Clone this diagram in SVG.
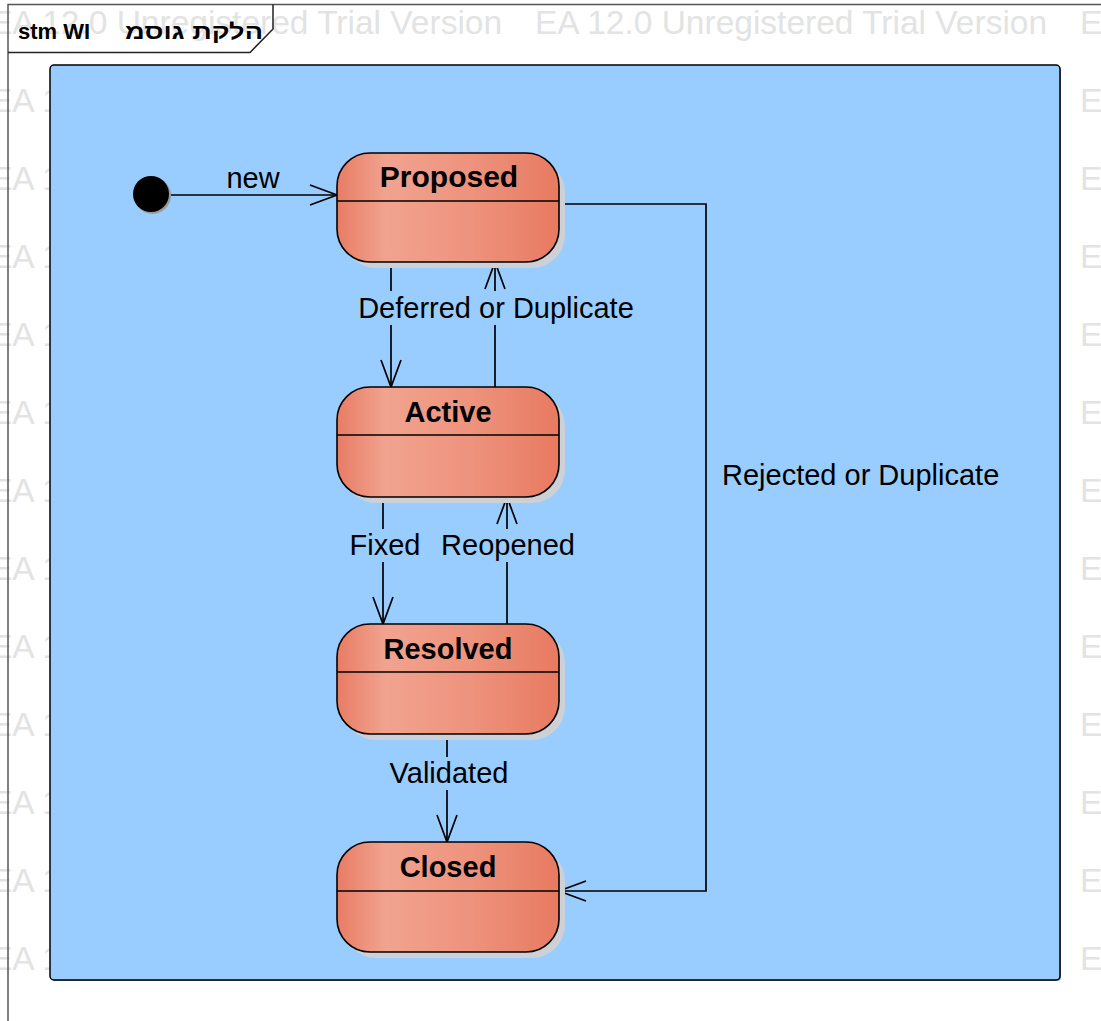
<svg xmlns="http://www.w3.org/2000/svg" xmlns:xlink="http://www.w3.org/1999/xlink" width="1101" height="1021" viewBox="0 0 1101 1021">
<style>
.wm{font-family:"Liberation Sans",Arial,sans-serif;font-size:33.5px;fill:#e3e3e3}
.lbl{font-family:"Liberation Sans",Arial,sans-serif;font-size:29px;fill:#000}
.name{font-family:"Liberation Sans",Arial,sans-serif;font-size:29px;font-weight:bold;fill:#000;text-anchor:middle}
.title{font-family:"Liberation Sans","DejaVu Sans",Arial,sans-serif;font-size:22px;font-weight:bold;fill:#000}
.st{fill:url(#sg);stroke:#000;stroke-width:1.6}
.sh{fill:#cdd0d4}
.div{stroke:#000;stroke-width:1.6}
.ln{fill:none;stroke:#000;stroke-width:1.7}
.bg{fill:#99ccff}
</style>
<defs>
<linearGradient id="sg" x1="0" y1="0" x2="1" y2="0">
<stop offset="0" stop-color="#e87c65"/>
<stop offset="0.22" stop-color="#f1a38f"/>
<stop offset="0.6" stop-color="#ee937d"/>
<stop offset="1" stop-color="#e87a61"/>
</linearGradient>
<marker id="open" markerUnits="userSpaceOnUse" markerWidth="32" markerHeight="26" viewBox="-29 -13 32 26" refX="0" refY="0" orient="auto" overflow="visible">
<path d="M-27,-10 L0,0 L-27,10" fill="none" stroke="#000" stroke-width="1.7"/>
</marker>
<g id="wmrow">
<text class="wm" x="-10" y="0">EA 12.0 Unregistered Trial Version</text>
<text class="wm" x="535" y="0">EA 12.0 Unregistered Trial Version</text>
<text class="wm" x="1080" y="0">EA 12.0 Unregistered Trial Version</text>
</g>
</defs>
<rect x="0" y="0" width="1101" height="1021" fill="#fff"/>
<g id="watermark">
<use xlink:href="#wmrow" y="34"/>
<use xlink:href="#wmrow" y="112"/>
<use xlink:href="#wmrow" y="190"/>
<use xlink:href="#wmrow" y="268"/>
<use xlink:href="#wmrow" y="346"/>
<use xlink:href="#wmrow" y="424"/>
<use xlink:href="#wmrow" y="502"/>
<use xlink:href="#wmrow" y="580"/>
<use xlink:href="#wmrow" y="658"/>
<use xlink:href="#wmrow" y="736"/>
<use xlink:href="#wmrow" y="814"/>
<use xlink:href="#wmrow" y="892"/>
<use xlink:href="#wmrow" y="970"/>
</g>
<g id="frame">
<path d="M8,1021 V4.5 H1101" fill="none" stroke="#555" stroke-width="1.5"/>
<path d="M8,52.5 H250 L273,29 V4.5" fill="none" stroke="#222" stroke-width="1.5"/>
<text class="title" x="18" y="39">stm WI <tspan x="125" textLength="138" lengthAdjust="spacingAndGlyphs">&#x202D;מסוג תקלה&#x202C;</tspan></text>
</g>
<g id="region">
<rect x="51" y="66" width="1010" height="915" rx="4" fill="#8a9aa8"/>
<rect x="50" y="65" width="1010" height="915" rx="4" fill="#99ccff" stroke="#000" stroke-width="1.5"/>
</g>
<g id="connectors">
<path class="ln" d="M169,195 H337" marker-end="url(#open)"/>
<path class="ln" d="M391,262 V387" marker-end="url(#open)"/>
<path class="ln" d="M495,387 V262" marker-end="url(#open)"/>
<path class="ln" d="M383,497 V624" marker-end="url(#open)"/>
<path class="ln" d="M507,624 V497" marker-end="url(#open)"/>
<path class="ln" d="M447,734 V842" marker-end="url(#open)"/>
<path class="ln" d="M559,204 H706 V891 H559" marker-end="url(#open)"/>
<rect class="bg" x="355" y="291" width="282" height="34"/>
<rect class="bg" x="348" y="529" width="74" height="33"/>
<rect class="bg" x="440" y="529" width="137" height="33"/>
<rect class="bg" x="386" y="757" width="126" height="33"/>
<text class="lbl" x="253" y="188" text-anchor="middle">new</text>
<text class="lbl" x="496" y="318" text-anchor="middle">Deferred or Duplicate</text>
<text class="lbl" x="385" y="555" text-anchor="middle">Fixed</text>
<text class="lbl" x="508" y="555" text-anchor="middle">Reopened</text>
<text class="lbl" x="449" y="783" text-anchor="middle">Validated</text>
<text class="lbl" x="722" y="485">Rejected or Duplicate</text>
</g>
<g id="initial">
<circle cx="152.5" cy="195.5" r="18.5" fill="#9a9a9a"/>
<circle cx="151" cy="194" r="18" fill="#000"/>
</g>
<g id="proposed">
<rect class="sh" x="343" y="159" width="222" height="109" rx="33"/>
<rect class="st" x="337" y="153" width="222" height="109" rx="33"/>
<line class="div" x1="337" y1="201" x2="559" y2="201"/>
<text class="name" x="449" y="187" style="font-size:30px">Proposed</text>
</g>
<g id="active">
<rect class="sh" x="343" y="393" width="222" height="110" rx="33"/>
<rect class="st" x="337" y="387" width="222" height="110" rx="33"/>
<line class="div" x1="337" y1="435" x2="559" y2="435"/>
<text class="name" x="448" y="422">Active</text>
</g>
<g id="resolved">
<rect class="sh" x="343" y="630" width="222" height="110" rx="33"/>
<rect class="st" x="337" y="624" width="222" height="110" rx="33"/>
<line class="div" x1="337" y1="672" x2="559" y2="672"/>
<text class="name" x="448" y="659">Resolved</text>
</g>
<g id="closed">
<rect class="sh" x="343" y="848" width="222" height="110" rx="33"/>
<rect class="st" x="337" y="842" width="222" height="110" rx="33"/>
<line class="div" x1="337" y1="891" x2="559" y2="891"/>
<text class="name" x="448" y="877">Closed</text>
</g>
</svg>
